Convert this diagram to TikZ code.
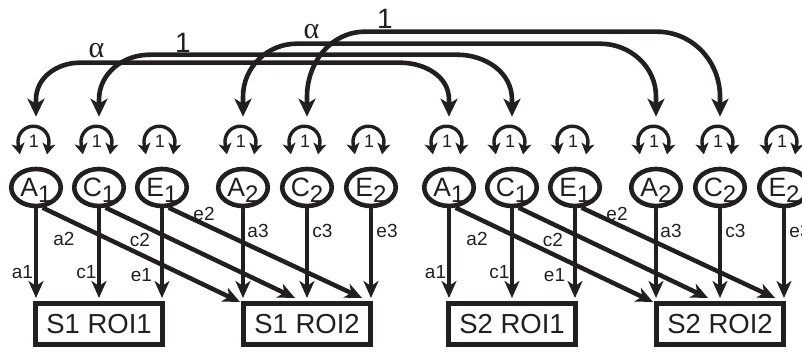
\documentclass[tikz,border=0pt]{standalone}
\usepackage{fontspec}
\setmainfont{Liberation Sans}
\newfontfamily\grk{Liberation Serif}
\usetikzlibrary{arrows.meta,shapes.geometric,calc}
\definecolor{ink}{HTML}{231F20}
\newcommand\lsub[1]{\raisebox{-6pt}{\fontsize{24}{24}\selectfont #1}}
\tikzset{
  lat/.style={ellipse, draw=ink, line width=4.6pt, minimum width=49.5pt, minimum height=37pt,
    inner sep=0pt, text height=19pt, text depth=0pt, font=\fontsize{26.5}{26.5}\selectfont, text=ink},
  roibox/.style={rectangle, draw=ink, line width=5pt, minimum width=127pt, minimum height=41pt,
    inner sep=0pt, font=\fontsize{27.5}{27.5}\selectfont, text=ink},
  arr/.style={draw=ink, line width=4.5pt, -{Stealth[length=17pt,width=15pt,inset=5pt]}},
  big/.style={draw=ink, line width=4.6pt,
    {Stealth[length=18pt,width=17pt,inset=5pt]}-{Stealth[length=18pt,width=17pt,inset=5pt]}},
  loopar/.style={draw=ink, line width=3.4pt,
    {Stealth[length=11pt,width=13pt,inset=3pt]}-{Stealth[length=11pt,width=13pt,inset=3pt]}},
  loopnum/.style={inner sep=0pt, font=\fontsize{18}{18}\selectfont, text=ink},
  lbl/.style={inner sep=0pt, font=\fontsize{19}{19}\selectfont, text=ink},
  toplbl/.style={inner sep=0pt, font=\fontsize{28}{28}\selectfont, text=ink},
}
\newcommand\drawgroup[1]{%
  \foreach \n/\x/\t/\s in {A1/36/A/1, C1/99/C/1, E1/162/E/1, A2/243/A/2, C2/307/C/2, E2/371/E/2}{
    \node[lat] (\n) at (\x,164.5) {\t\lsub{\s}};
    \draw[loopar] ([shift={(-16.1,12.3)}]\n.north) -- ++(-1.7,10)
      arc[start angle=190,end angle=-10,radius=15.5] -- ++(-1.7,-10);
    \node[loopnum] (\n-v) at ([shift={(-2,25)}]\n.north) {1};
  }
  \node[roibox] (R1) at (99,28) {#1 ROI1};
  \node[roibox] (R2) at (307,28) {#1 ROI2};
  \draw[arr, shorten >=3pt] (A1) -- (A1 |- R1.north);
  \draw[arr, shorten >=3pt] (C1) -- (C1 |- R1.north);
  \draw[arr, shorten >=3pt] (E1) -- (E1 |- R1.north);
  \draw[arr, shorten >=3pt] (A2) -- (A2 |- R2.north);
  \draw[arr, shorten >=3pt] (C2) -- (C2 |- R2.north);
  \draw[arr, shorten >=3pt] (E2) -- (E2 |- R2.north);
  \draw[arr] (A1.-72) -- ([shift={(-1,-1)}]R2.north west);
  \draw[arr] (C1.-72) -- ([shift={(-12,3)}]R2.north);
  \draw[arr] (E1.-72) -- ([shift={(55,3)}]R2.north);
  \node[lbl] (la1) at (22.5,79.5) {a1};
  \node[lbl] (lc1) at (86.5,79.5) {c1};
  \node[lbl] (le1) at (141.5,77) {e1};
  \node[lbl] (la2) at (64,113) {a2};
  \node[lbl] (lc2) at (140,112) {c2};
  \node[lbl] (le2) at (204,138) {e2};
  \node[lbl] (la3) at (258,121) {a3};
  \node[lbl] (lc3) at (322.5,121) {c3};
  \node[lbl] (le3) at (387,121) {e3};
}
\begin{document}
\begin{tikzpicture}[x=1pt,y=1pt]
  \useasboundingbox[fill=white] (0,0) rectangle (802,352);
  \begin{scope}[name prefix=L-]
    \drawgroup{S1}
  \end{scope}
  \begin{scope}[xshift=413pt,name prefix=R-]
    \drawgroup{S2}
  \end{scope}
  % cross-twin correlations
  \draw[big] ([yshift=50pt]L-A1.north) -- ++(0,17) to[out=90,in=180] ++(44,37)
    -- ([shift={(-49,104)}]R-A1.north) to[out=0,in=90] ([yshift=67pt]R-A1.north)
    -- ([yshift=50pt]R-A1.north);
  \draw[big] ([yshift=50pt]L-C1.north) -- ++(0,17) to[out=90,in=180] ++(51,45)
    -- ([shift={(-55,112)}]R-C1.north) to[out=0,in=90] ([yshift=67pt]R-C1.north)
    -- ([yshift=50pt]R-C1.north);
  \draw[big] ([yshift=50pt]L-A2.north) -- ++(0,20) to[out=90,in=180] ++(54,53)
    -- ([shift={(-56,123)}]R-A2.north) to[out=0,in=90] ([yshift=70pt]R-A2.north)
    -- ([yshift=50pt]R-A2.north);
  \draw[big] ([yshift=50pt]L-C2.north) -- ++(0,20) to[out=90,in=180] ++(58,65)
    -- ([shift={(-63,135)}]R-C2.north) to[out=0,in=90] ([yshift=70pt]R-C2.north)
    -- ([yshift=50pt]R-C2.north);
  \node[toplbl] (al1) at (96.5,301) {\fontsize{30}{30}\grk α};
  \node[toplbl] (one1) at (183,309) {1};
  \node[toplbl] (al2) at (311.5,320.5) {\fontsize{30}{30}\grk α};
  \node[toplbl] (one2) at (385,333) {1};
\end{tikzpicture}
\end{document}
